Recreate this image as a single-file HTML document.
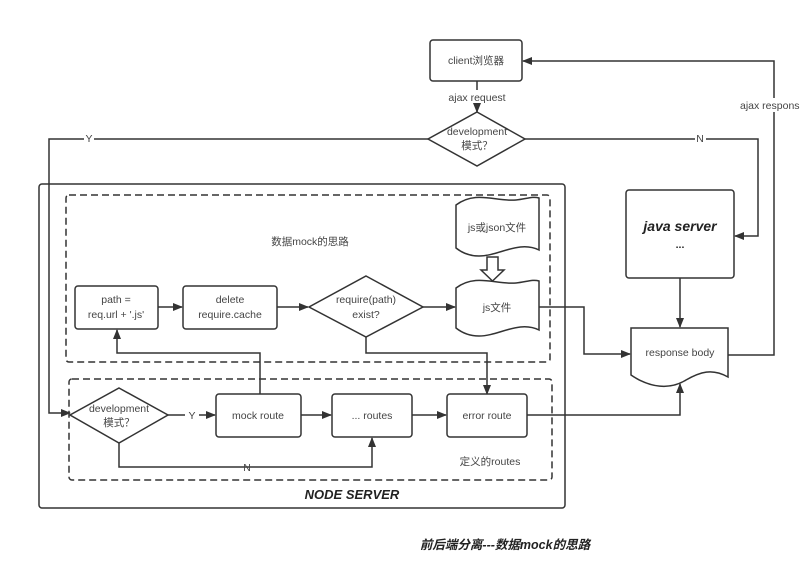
<!DOCTYPE html>
<html><head><meta charset="utf-8"><style>
html,body{margin:0;padding:0;background:#fff;}
svg{display:block;}
text{font-family:"Liberation Sans","Noto Sans CJK SC",sans-serif;font-size:10.5px;fill:#444;}
</style></head><body>
<svg width="800" height="588" viewBox="0 0 800 588" xmlns="http://www.w3.org/2000/svg">
<defs>
<marker id="a" markerWidth="10" markerHeight="10" refX="9" refY="5" orient="auto" markerUnits="userSpaceOnUse"><path d="M0,1 L10,5 L0,9 z" fill="#333"/></marker>
</defs>
<g stroke="#333" stroke-width="1.5" fill="none">
<rect x="39" y="184" width="526" height="324" rx="3"/>
<rect x="66" y="195" width="484" height="167" rx="3" stroke-dasharray="7,4"/>
<rect x="69" y="379" width="483" height="101" rx="3" stroke-dasharray="7,4"/>
<rect x="430" y="40" width="92" height="41" rx="3" fill="#fff"/>
<line x1="477" y1="81" x2="477" y2="90"/>
<line x1="477" y1="104" x2="477" y2="112" marker-end="url(#a)"/>
<polygon points="477,112 525,139 477,166 428,139" fill="#fff"/>
<polyline points="428,139 49,139 49,413 70,413" marker-end="url(#a)"/>
<polyline points="525,139 758,139 758,236 735,236" marker-end="url(#a)"/>
<rect x="626" y="190" width="108" height="88" rx="3" fill="#fff"/>
<line x1="680" y1="278" x2="680" y2="327" marker-end="url(#a)"/>
<path d="M631,328 H728 V377 C712,368 700,372 686,380 C670,390 650,388 631,375 Z" fill="#fff"/>
<polyline points="728,355 774,355 774,61 523,61" marker-end="url(#a)"/>
<path d="M456,205 C476,190 496,202 516,200 C526,199 533,196 539,198 V250 C519,240 499,256 479,256 C468,256 461,252 456,248 Z" fill="#fff"/>
<path d="M487,257 H498 V270 H504 L492.5,281 L481,270 H487 Z" fill="#fff"/>
<path d="M456,288 C476,273 496,285 516,283 C526,282 533,279 539,281 V330 C519,320 499,336 479,336 C468,336 461,332 456,328 Z" fill="#fff"/>
<polyline points="539,307 584,307 584,354 630,354" marker-end="url(#a)"/>
<rect x="75" y="286" width="83" height="43" rx="3" fill="#fff"/>
<line x1="158" y1="307" x2="182" y2="307" marker-end="url(#a)"/>
<rect x="183" y="286" width="94" height="43" rx="3" fill="#fff"/>
<line x1="277" y1="307" x2="308" y2="307" marker-end="url(#a)"/>
<polygon points="366,276 423,307 366,337 309,307" fill="#fff"/>
<line x1="423" y1="307" x2="455" y2="307" marker-end="url(#a)"/>
<polyline points="366,337 366,353 487,353 487,394" marker-end="url(#a)"/>
<polyline points="260,394 260,353 117,353 117,330" marker-end="url(#a)"/>
<polygon points="119,388 168,415 119,443 70,415" fill="#fff"/>
<line x1="168" y1="415" x2="185" y2="415"/>
<line x1="199" y1="415" x2="215" y2="415" marker-end="url(#a)"/>
<rect x="216" y="394" width="85" height="43" rx="3" fill="#fff"/>
<line x1="301" y1="415" x2="331" y2="415" marker-end="url(#a)"/>
<rect x="332" y="394" width="80" height="43" rx="3" fill="#fff"/>
<line x1="412" y1="415" x2="446" y2="415" marker-end="url(#a)"/>
<rect x="447" y="394" width="80" height="43" rx="3" fill="#fff"/>
<polyline points="119,443 119,467 372,467 372,438" marker-end="url(#a)"/>
<polyline points="527,415 680,415 680,384" marker-end="url(#a)"/>
</g>
<g text-anchor="middle">
<text x="476" y="64">client浏览器</text>
<text x="477" y="101">ajax request</text>
<text x="477" y="135">development</text>
<text x="477" y="149">模式？</text>
<rect x="84" y="132" width="10" height="12" fill="#fff"/>
<text x="89" y="142">Y</text>
<rect x="695" y="132" width="11" height="12" fill="#fff"/>
<text x="700" y="142">N</text>
<rect x="745" y="98" width="55" height="14" fill="#fff"/>
<text x="740" y="109" text-anchor="start">ajax respons</text>
<text x="680" y="231" style="font-weight:bold;font-style:italic;font-size:14px;fill:#222">java server</text>
<text x="680" y="248" style="font-weight:bold;fill:#222">...</text>
<text x="680" y="356">response body</text>
<text x="497" y="231">js或json文件</text>
<text x="497" y="311">js文件</text>
<text x="310" y="245">数据mock的思路</text>
<text x="116" y="303">path =</text>
<text x="116" y="318">req.url + '.js'</text>
<text x="230" y="303">delete</text>
<text x="230" y="318">require.cache</text>
<text x="366" y="303">require(path)</text>
<text x="366" y="318">exist?</text>
<text x="119" y="412">development</text>
<text x="119" y="426">模式？</text>
<text x="192" y="419">Y</text>
<text x="258" y="419">mock route</text>
<text x="372" y="419">... routes</text>
<text x="487" y="419">error route</text>
<text x="247" y="471">N</text>
<text x="490" y="465">定义的routes</text>
<text x="352" y="499" style="font-weight:bold;font-style:italic;font-size:13px;fill:#222">NODE SERVER</text>
<text x="505" y="549" style="font-weight:bold;font-style:italic;font-size:12.5px;fill:#222">前后端分离---数据mock的思路</text>
</g>
</svg>
</body></html>
